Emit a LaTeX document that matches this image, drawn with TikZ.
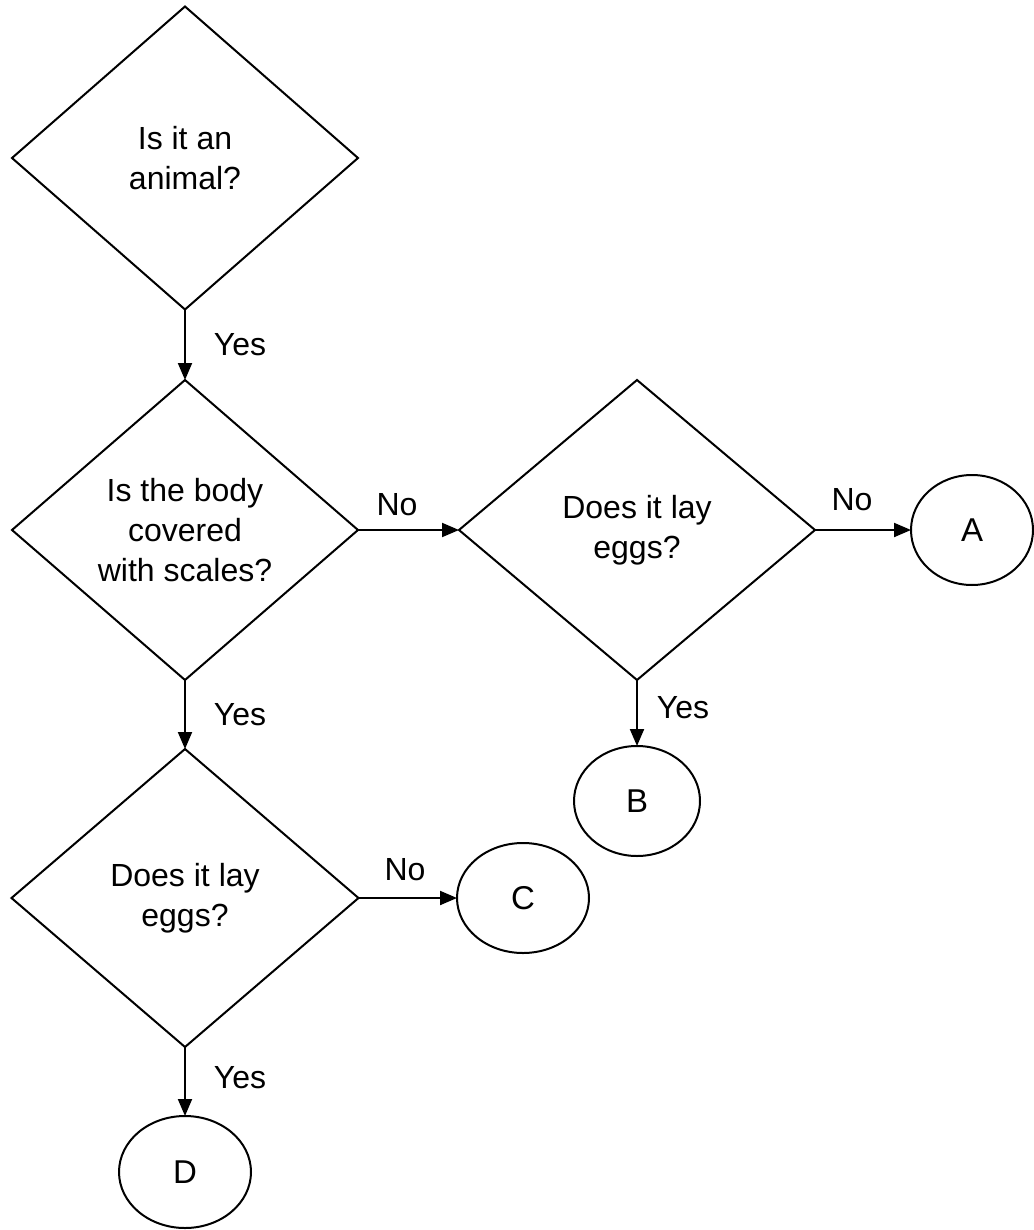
\documentclass[tikz,border=0pt]{standalone}
\usepackage{fontspec}
\setmainfont{Liberation Sans}
\usetikzlibrary{shapes.geometric,arrows.meta}
\tikzset{
  decision/.style={diamond, draw, line width=2pt, inner sep=0pt, outer sep=0pt, align=center,
    font=\fontsize{32}{40}\selectfont},
  terminal/.style={ellipse, draw, line width=2pt, inner sep=0pt, outer sep=0pt,
    font=\fontsize{33}{40}\selectfont},
  lbl/.style={font=\fontsize{32}{40}\selectfont, inner sep=0pt},
  flow/.style={line width=2pt, -{Triangle[length=17pt,width=14pt]}}
}
\begin{document}
\begin{tikzpicture}[x=1pt,y=-1pt]
\useasboundingbox (0,0) rectangle (1033,1230);
% decisions
\node[decision, minimum width=346pt, minimum height=303pt] (d1) at (185,158) {Is it an\\animal?};
\node[decision, minimum width=346pt, minimum height=300pt] (d2) at (185,530) {Is the body\\covered\\with scales?};
\node[decision, minimum width=356pt, minimum height=300pt] (d3) at (637,530) {Does it lay\\eggs?};
\node[decision, minimum width=347pt, minimum height=298pt] (d4) at (185,898) {Does it lay\\eggs?};
% terminals
\node[terminal, minimum width=122pt, minimum height=110pt] (A) at (972,530) {A};
\node[terminal, minimum width=126pt, minimum height=110pt] (B) at (637,801) {B};
\node[terminal, minimum width=132pt, minimum height=110pt] (C) at (523,898) {C};
\node[terminal, minimum width=132pt, minimum height=112pt] (D) at (185,1172) {D};
% connectors
\draw[flow] (d1.south) -- (d2.north);
\draw[flow] (d2.east) -- (d3.west);
\draw[flow] (d3.east) -- (A.west);
\draw[flow] (d3.south) -- (B.north);
\draw[flow] (d2.south) -- (d4.north);
\draw[flow] (d4.east) -- (C.west);
\draw[flow] (d4.south) -- (D.north);
% labels
\node[lbl] (l1) at (240,345) {Yes};
\node[lbl] (l2) at (397,505) {No};
\node[lbl] (l3) at (852,500) {No};
\node[lbl] (l4) at (683,708) {Yes};
\node[lbl] (l5) at (240,715) {Yes};
\node[lbl] (l6) at (405,870) {No};
\node[lbl] (l7) at (240,1078) {Yes};
\end{tikzpicture}
\end{document}
